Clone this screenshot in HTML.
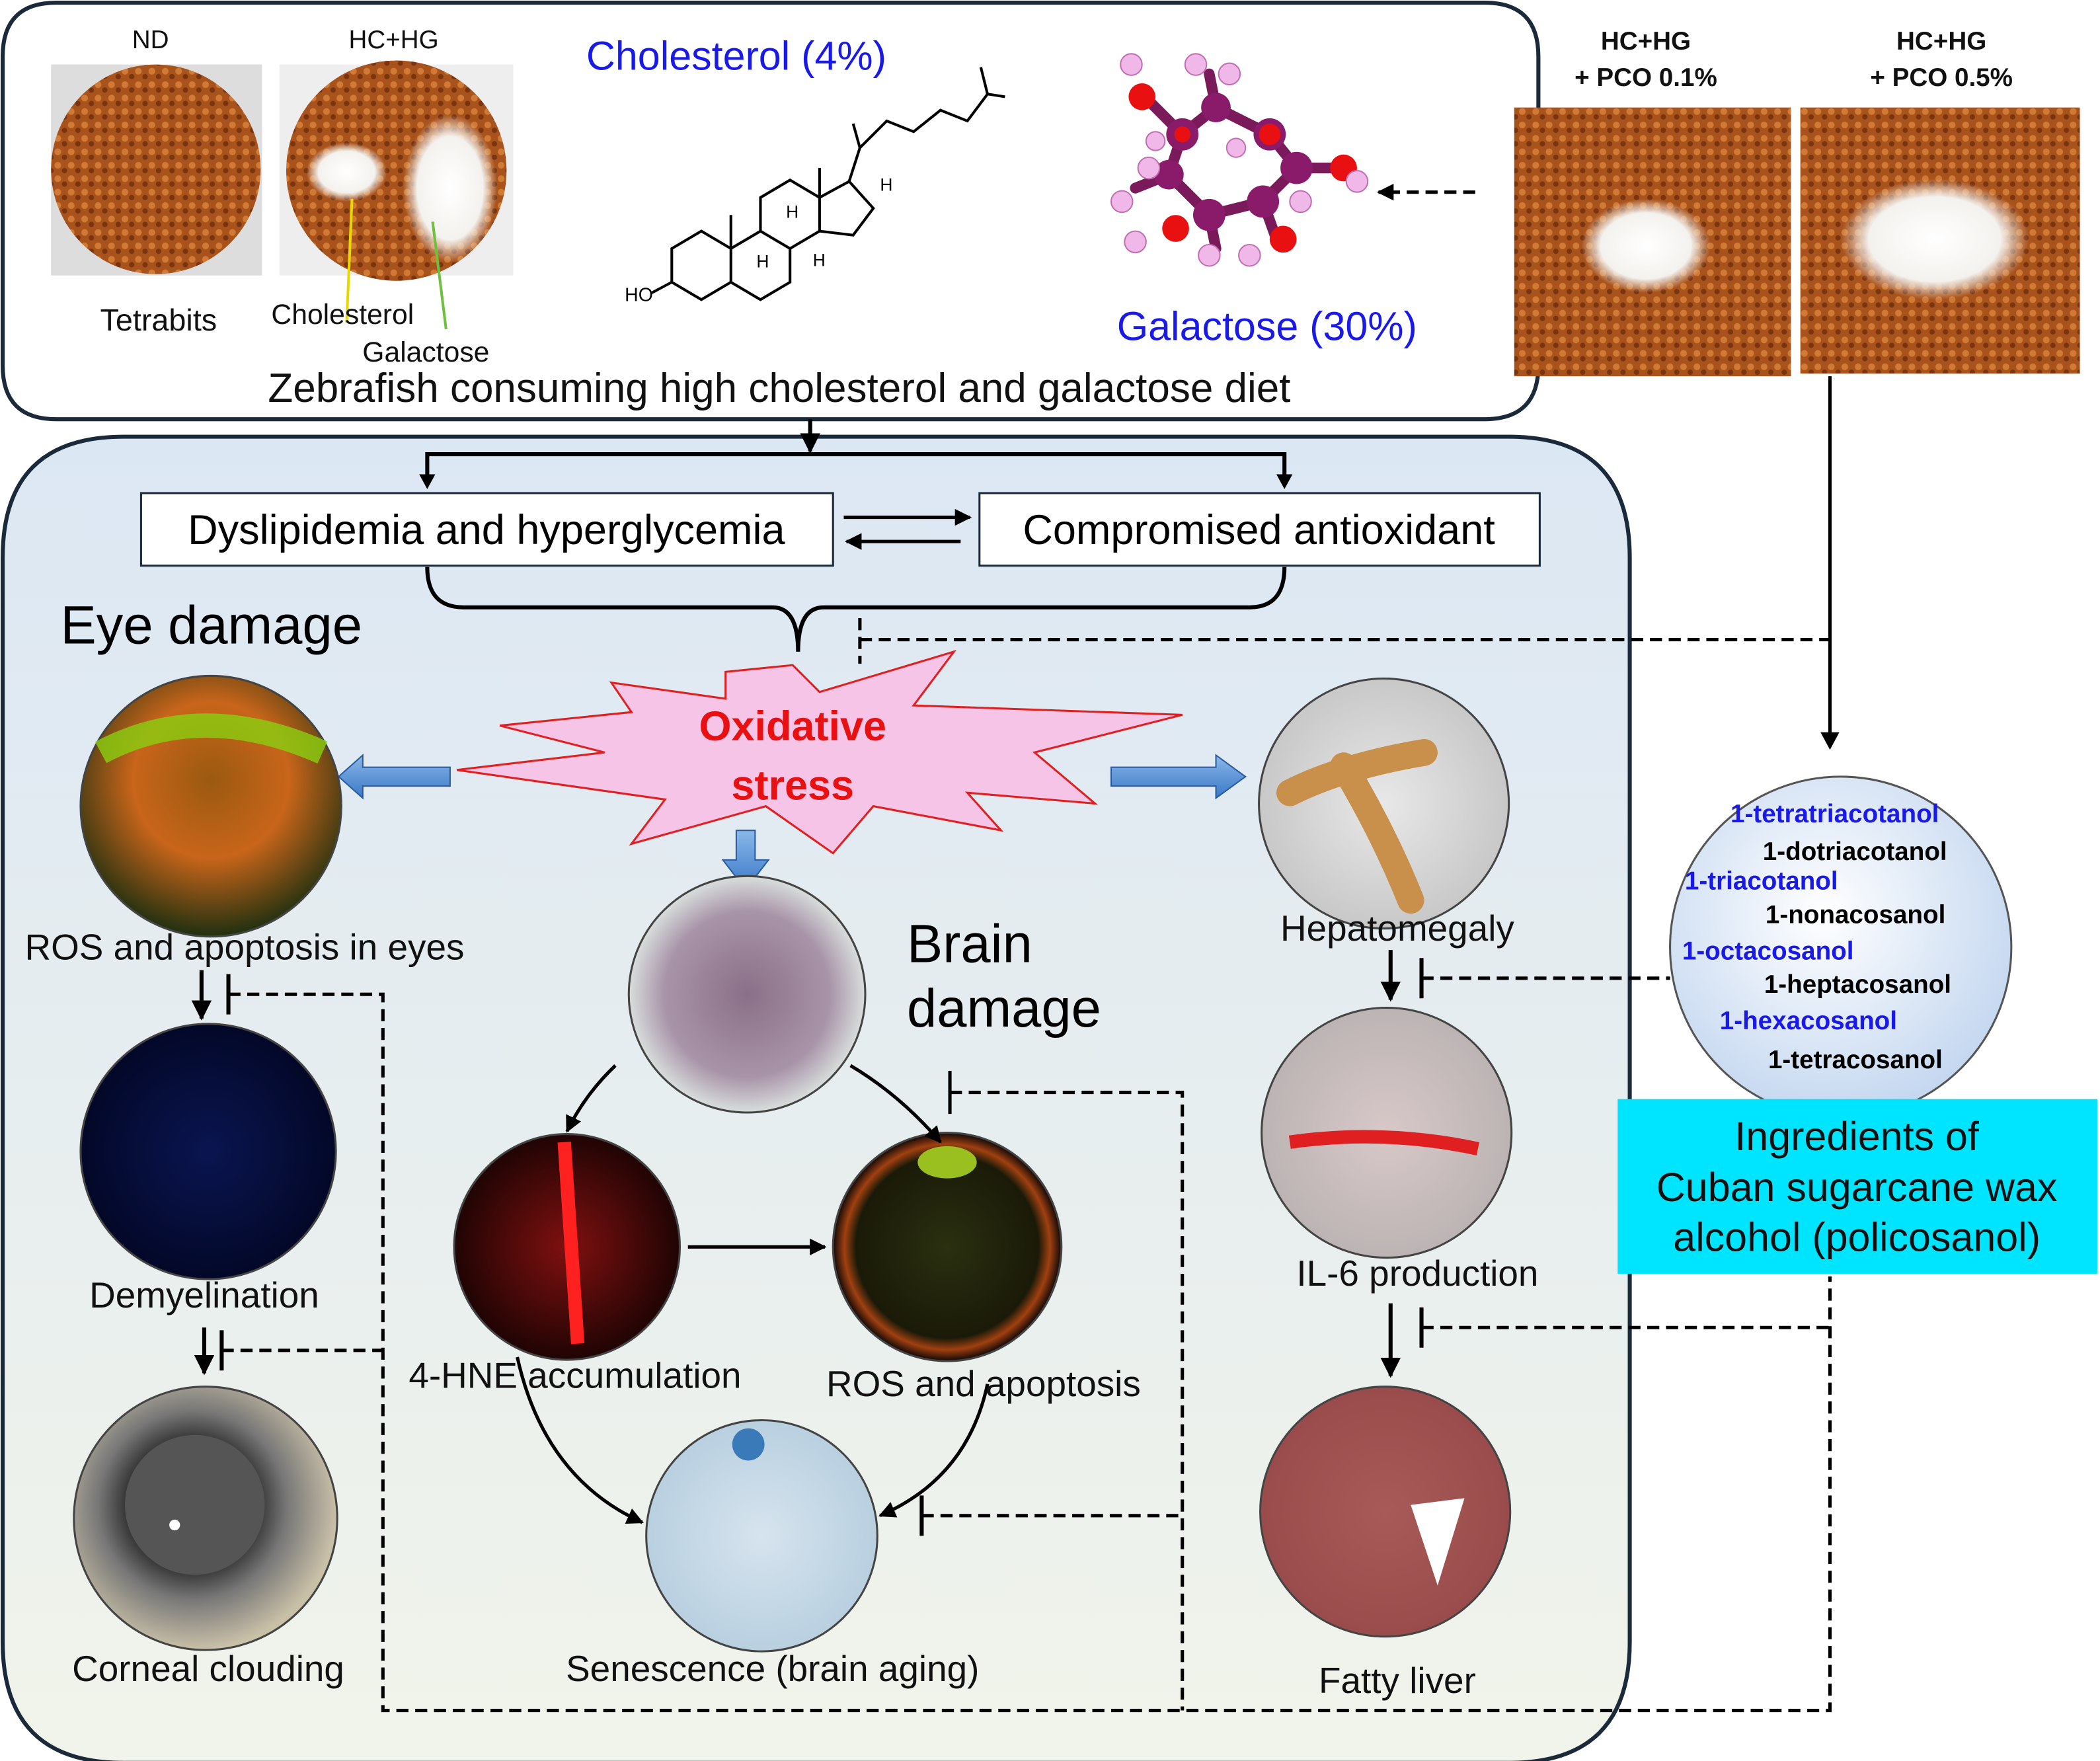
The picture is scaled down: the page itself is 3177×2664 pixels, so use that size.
<!DOCTYPE html>
<html><head><meta charset="utf-8"><style>html,body{margin:0;padding:0;background:#fff}svg{display:block}</style></head><body>
<svg xmlns="http://www.w3.org/2000/svg" width="3177" height="2664" viewBox="0 0 1563 1310.6" font-family="Liberation Sans, Arial, sans-serif">
<defs>
<linearGradient id="bg" x1="0" y1="0" x2="0" y2="1"><stop offset="0" stop-color="#dce7f4"/><stop offset="1" stop-color="#f1f4ea"/></linearGradient>
<radialGradient id="pco" cx="0.45" cy="0.4" r="0.6"><stop offset="0" stop-color="#ffffff"/><stop offset="1" stop-color="#c5d8f0"/></radialGradient>
<pattern id="kib" width="10" height="10" patternUnits="userSpaceOnUse"><rect width="10" height="10" fill="#a9531c"/><circle cx="3" cy="3" r="2.5" fill="#d07a35"/><circle cx="8" cy="7" r="2" fill="#7a3510"/></pattern>
<radialGradient id="white" cx="0.5" cy="0.5" r="0.5"><stop offset="0" stop-color="#fff"/><stop offset="0.7" stop-color="#f4f2ee"/><stop offset="1" stop-color="#f4f2ee" stop-opacity="0"/></radialGradient>
<radialGradient id="eye1" cx="0.5" cy="0.4" r="0.6"><stop offset="0" stop-color="#9a5a10"/><stop offset="0.5" stop-color="#c8651a"/><stop offset="1" stop-color="#203010"/></radialGradient>
<radialGradient id="demy" cx="0.5" cy="0.5" r="0.5"><stop offset="0" stop-color="#0a1550"/><stop offset="1" stop-color="#030828"/></radialGradient>
<radialGradient id="corn" cx="0.45" cy="0.45" r="0.55"><stop offset="0" stop-color="#999"/><stop offset="0.45" stop-color="#333"/><stop offset="0.65" stop-color="#777"/><stop offset="1" stop-color="#c9c0a8"/></radialGradient>
<radialGradient id="brain" cx="0.5" cy="0.5" r="0.5"><stop offset="0" stop-color="#8a7088"/><stop offset="0.7" stop-color="#a894a8"/><stop offset="1" stop-color="#d8dedc"/></radialGradient>
<radialGradient id="hne" cx="0.5" cy="0.5" r="0.5"><stop offset="0" stop-color="#801010"/><stop offset="1" stop-color="#200404"/></radialGradient>
<radialGradient id="ros" cx="0.5" cy="0.5" r="0.5"><stop offset="0" stop-color="#2a3010"/><stop offset="0.8" stop-color="#1a1a08"/><stop offset="0.9" stop-color="#a04010"/><stop offset="1" stop-color="#100808"/></radialGradient>
<radialGradient id="sen" cx="0.5" cy="0.5" r="0.5"><stop offset="0" stop-color="#d6e4ee"/><stop offset="1" stop-color="#b9d0e0"/></radialGradient>
<radialGradient id="liv" cx="0.5" cy="0.5" r="0.5"><stop offset="0" stop-color="#e8e8e8"/><stop offset="1" stop-color="#c8c8c8"/></radialGradient>
<radialGradient id="il6" cx="0.5" cy="0.5" r="0.5"><stop offset="0" stop-color="#d8c8c8"/><stop offset="1" stop-color="#bcb4b4"/></radialGradient>
<radialGradient id="fat" cx="0.5" cy="0.5" r="0.5"><stop offset="0" stop-color="#a85a58"/><stop offset="1" stop-color="#9a4c4c"/></radialGradient>
<linearGradient id="barrow" x1="0" y1="0" x2="0" y2="1"><stop offset="0" stop-color="#8ab8e8"/><stop offset="1" stop-color="#3a78c8"/></linearGradient>
<marker id="ah" viewBox="0 0 10 10" refX="9" refY="5" markerWidth="5" markerHeight="5" orient="auto"><path d="M0,0 L10,5 L0,10 z" fill="#000"/></marker>
</defs>
<rect width="1563" height="1311" fill="#fff"/>
<path d="M42,2 H1105 Q1145,2 1145,42 V272 Q1145,312 1105,312 H42 Q2,312 2,272 V42 Q2,2 42,2 Z" fill="#fff" stroke="#1b2a3a" stroke-width="3"/>
<rect x="38" y="48" width="157" height="157" fill="#ddd"/>
<circle cx="116" cy="126" r="78" fill="url(#kib)"/>
<rect x="208" y="48" width="174" height="157" fill="#eee"/>
<circle cx="295" cy="127" r="82" fill="url(#kib)"/>
<ellipse cx="258" cy="128" rx="30" ry="22" fill="url(#white)"/>
<ellipse cx="335" cy="140" rx="35" ry="55" fill="url(#white)"/>
<line x1="262" y1="148" x2="258" y2="240" stroke="#e8d800" stroke-width="2"/>
<line x1="322" y1="165" x2="332" y2="245" stroke="#70c040" stroke-width="2"/>
<g font-size="19" text-anchor="middle" fill="#111">
<text x="112" y="36">ND</text><text x="293" y="36">HC+HG</text>
<text x="118" y="246" font-size="23">Tetrabits</text>
<text x="255" y="241" font-size="21">Cholesterol</text>
<text x="317" y="269" font-size="21">Galactose</text>
</g>
<text x="548" y="52" font-size="30" fill="#1a1ae8" text-anchor="middle">Cholesterol (4%)</text>
<g stroke="#000" stroke-width="2" fill="none">
<path d="M500,185 L522,172 L544,185 L544,210 L522,223 L500,210 Z"/>
<path d="M544,185 L566,172 L588,185 L588,210 L566,223 L544,210"/>
<path d="M566,172 L566,147 L588,134 L610,147 L610,172 L588,185"/>
<path d="M610,147 L632,135 L650,155 L635,175 L610,172"/>
<path d="M632,135 L640,110 L660,90 L680,98 L700,82 L720,90 L735,70 L748,72"/>
<path d="M735,70 L730,50"/><path d="M640,110 L635,92"/>
<path d="M544,185 L544,160"/><path d="M610,147 L610,125"/>
<path d="M500,210 L485,218"/>
</g>
<text x="465" y="224" font-size="14">HO</text>
<g font-size="13"><text x="585" y="162">H</text><text x="563" y="199">H</text><text x="605" y="198">H</text><text x="655" y="142">H</text></g>
<g stroke="#7a1a5a" stroke-width="8" stroke-linecap="round" fill="none">
<path d="M850,70 L880,100 L905,80 L945,100 L965,125 L940,150 L900,160 L870,130 L880,100"/>
<path d="M900,160 L905,185"/><path d="M940,150 L950,178"/><path d="M965,125 L1000,125"/><path d="M905,80 L900,55"/><path d="M870,130 L845,140"/>
</g>
<g fill="#8a1a6a"><circle cx="880" cy="100" r="12"/><circle cx="945" cy="100" r="12"/><circle cx="940" cy="150" r="12"/><circle cx="900" cy="160" r="12"/><circle cx="965" cy="125" r="12"/><circle cx="870" cy="130" r="11"/><circle cx="905" cy="80" r="11"/></g>
<g fill="#e81010"><circle cx="850" cy="72" r="10"/><circle cx="945" cy="100" r="8"/><circle cx="1000" cy="125" r="10"/><circle cx="875" cy="170" r="10"/><circle cx="955" cy="178" r="10"/><circle cx="880" cy="100" r="6"/></g>
<g fill="#f0b8e8" stroke="#c070b0"><circle cx="842" cy="48" r="8"/><circle cx="890" cy="48" r="8"/><circle cx="915" cy="55" r="8"/><circle cx="835" cy="150" r="8"/><circle cx="855" cy="125" r="8"/><circle cx="845" cy="180" r="8"/><circle cx="900" cy="190" r="8"/><circle cx="930" cy="190" r="8"/><circle cx="968" cy="150" r="8"/><circle cx="1010" cy="135" r="8"/><circle cx="920" cy="110" r="7"/><circle cx="860" cy="105" r="7"/></g>
<line x1="1098" y1="143" x2="1026" y2="143" stroke="#000" stroke-width="2.5" stroke-dasharray="9,5" marker-end="url(#ah)"/>
<text x="943" y="253" font-size="30" fill="#1a1ae8" text-anchor="middle">Galactose (30%)</text>
<text x="580" y="299" font-size="30.5" text-anchor="middle" fill="#111">Zebrafish consuming high cholesterol and galactose diet</text>
<rect x="1127" y="80" width="206" height="200" fill="url(#kib)"/>
<ellipse cx="1225" cy="183" rx="48" ry="35" fill="url(#white)"/>
<rect x="1340" y="80" width="208" height="198" fill="url(#kib)"/>
<ellipse cx="1440" cy="178" rx="70" ry="45" fill="url(#white)"/>
<g font-size="19" font-weight="bold" text-anchor="middle" fill="#111">
<text x="1225" y="37">HC+HG</text><text x="1225" y="64">+ PCO 0.1%</text>
<text x="1445" y="37">HC+HG</text><text x="1445" y="64">+ PCO 0.5%</text></g>
<path d="M92,325 H1123 Q1213,325 1213,415 V1222 Q1213,1312 1123,1312 H92 Q2,1312 2,1222 V415 Q2,325 92,325 Z" fill="url(#bg)" stroke="#1b2a3a" stroke-width="3"/>
<g stroke="#000" stroke-width="3" fill="none">
<line x1="603" y1="312" x2="603" y2="336" marker-end="url(#ah)"/>
<polyline points="318,360 318,338 956,338 956,360"/>
</g>
<path d="M312,353 L318,364 L324,353Z M950,353 L956,364 L962,353Z" fill="#000"/>
<rect x="105" y="367" width="515" height="54" fill="#fff" stroke="#1b2a3a" stroke-width="1.5"/>
<rect x="729" y="367" width="417" height="54" fill="#fff" stroke="#1b2a3a" stroke-width="1.5"/>
<text x="362" y="405" font-size="31" text-anchor="middle">Dyslipidemia and hyperglycemia</text>
<text x="937" y="405" font-size="31" text-anchor="middle">Compromised antioxidant</text>
<line x1="628" y1="385" x2="722" y2="385" stroke="#000" stroke-width="2.5" marker-end="url(#ah)"/>
<line x1="715" y1="403" x2="630" y2="403" stroke="#000" stroke-width="2.5" marker-end="url(#ah)"/>
<path d="M318,422 Q318,452 345,452 H575 Q594,452 594,485 Q594,452 613,452 H930 Q956,452 956,422" fill="none" stroke="#000" stroke-width="3"/>
<g stroke="#000" stroke-width="2.5" fill="none" stroke-dasharray="9,5">
<line x1="640" y1="460" x2="640" y2="494"/>
<polyline points="640,476 1362,476"/>
<polyline points="707,813 880,813 880,1273"/><line x1="707" y1="797" x2="707" y2="829" stroke-dasharray="none"/>
<line x1="686" y1="1128" x2="880" y2="1128"/>
<polyline points="170,740 285,740 285,1273 1362,1273 1362,950"/>
<line x1="165" y1="1005" x2="285" y2="1005"/>
<line x1="1058" y1="988" x2="1362" y2="988"/>
<line x1="1058" y1="728" x2="1243" y2="728"/>
</g>
<g stroke="#000" stroke-width="3">
<line x1="170" y1="725" x2="170" y2="755"/><line x1="165" y1="990" x2="165" y2="1020"/>
<line x1="686" y1="1113" x2="686" y2="1143"/><line x1="1058" y1="973" x2="1058" y2="1003"/><line x1="1058" y1="713" x2="1058" y2="743"/>
<line x1="1362" y1="280" x2="1362" y2="548" stroke-width="2.5"/>
</g>
<path d="M1355,545 L1362,558 L1369,545Z" fill="#000"/>
<text x="45" y="479" font-size="40">Eye damage</text>
<polygon points="590,495 610,515 710,485 680,525 880,532 770,560 815,598 720,590 745,618 650,600 620,635 570,600 470,628 495,595 340,573 450,560 372,540 470,530 455,508 540,520 540,500" fill="#f5c4e6" stroke="#e02020" stroke-width="1.5"/>
<text x="590" y="551" font-size="31" font-weight="bold" fill="#e81010" text-anchor="middle">Oxidative</text>
<text x="590" y="595" font-size="31" font-weight="bold" fill="#e81010" text-anchor="middle">stress</text>
<polygon points="335,571 270,571 270,562 252,578 270,594 270,585 335,585" fill="url(#barrow)" stroke="#2a5aa0"/>
<polygon points="827,571 905,571 905,562 927,578 905,594 905,585 827,585" fill="url(#barrow)" stroke="#2a5aa0"/>
<polygon points="548,618 562,618 562,640 572,640 555,662 538,640 548,640" fill="url(#barrow)" stroke="#2a5aa0"/>
<g stroke="#444" stroke-width="1.5">
<circle cx="157" cy="600" r="97" fill="url(#eye1)"/>
<circle cx="155" cy="857" r="95" fill="url(#demy)"/>
<circle cx="153" cy="1130" r="98" fill="url(#corn)"/>
<circle cx="556" cy="740" r="88" fill="url(#brain)"/>
<circle cx="422" cy="928" r="84" fill="url(#hne)"/>
<circle cx="705" cy="928" r="85" fill="url(#ros)"/>
<circle cx="567" cy="1143" r="86" fill="url(#sen)"/>
<circle cx="1030" cy="598" r="93" fill="url(#liv)"/>
<circle cx="1032" cy="843" r="93" fill="url(#il6)"/>
<circle cx="1031" cy="1125" r="93" fill="url(#fat)"/>
</g>
<path d="M75,560 Q150,520 240,560" stroke="#8ad010" stroke-width="18" fill="none" opacity="0.8"/>
<circle cx="145" cy="1120" r="52" fill="#555"/><circle cx="130" cy="1135" r="4" fill="#fff"/>
<path d="M420,850 L430,1000" stroke="#ff2020" stroke-width="10"/>
<ellipse cx="705" cy="865" rx="22" ry="12" fill="#9ac020"/>
<circle cx="557" cy="1075" r="12" fill="#3a7ab8"/>
<path d="M960,590 Q1000,570 1060,560 M1000,570 Q1030,620 1050,670" stroke="#c8904a" stroke-width="20" fill="none" stroke-linecap="round"/>
<path d="M960,850 Q1030,840 1100,855" stroke="#e02020" stroke-width="10" fill="none"/>
<path d="M1050,1120 L1090,1115 L1070,1180 Z" fill="#fff"/>
<g stroke="#000" stroke-width="2.5" fill="none">
<path d="M458,793 Q435,815 422,842" marker-end="url(#ah)"/>
<path d="M633,793 Q670,815 700,850" marker-end="url(#ah)"/>
<line x1="512" y1="928" x2="614" y2="928" marker-end="url(#ah)"/>
<path d="M385,1010 Q405,1100 478,1133" marker-end="url(#ah)"/>
<path d="M735,1030 Q720,1100 655,1128" marker-end="url(#ah)"/>
<line x1="150" y1="722" x2="150" y2="758" marker-end="url(#ah)" stroke-width="3"/>
<line x1="152" y1="988" x2="152" y2="1022" marker-end="url(#ah)" stroke-width="3"/>
<line x1="1035" y1="707" x2="1035" y2="744" marker-end="url(#ah)" stroke-width="3"/>
<line x1="1035" y1="970" x2="1035" y2="1024" marker-end="url(#ah)" stroke-width="3"/>
</g>
<g font-size="27" text-anchor="middle" fill="#111">
<text x="182" y="714">ROS and apoptosis in eyes</text>
<text x="152" y="973">Demyelination</text>
<text x="155" y="1251">Corneal clouding</text>
<text x="428" y="1033">4-HNE accumulation</text>
<text x="732" y="1039">ROS and apoptosis</text>
<text x="575" y="1251">Senescence (brain aging)</text>
<text x="1040" y="700">Hepatomegaly</text>
<text x="1055" y="957">IL-6 production</text>
<text x="1040" y="1260">Fatty liver</text>
</g>
<text x="675" y="716" font-size="40">Brain</text>
<text x="675" y="764" font-size="40">damage</text>
<circle cx="1370" cy="705" r="127" fill="url(#pco)" stroke="#555" stroke-width="1.5"/>
<g font-size="19" font-weight="bold">
<text x="1288" y="612" fill="#1a1ae8">1-tetratriacotanol</text>
<text x="1312" y="640">1-dotriacotanol</text>
<text x="1254" y="662" fill="#1a1ae8">1-triacotanol</text>
<text x="1314" y="687">1-nonacosanol</text>
<text x="1252" y="714" fill="#1a1ae8">1-octacosanol</text>
<text x="1313" y="739">1-heptacosanol</text>
<text x="1280" y="766" fill="#1a1ae8">1-hexacosanol</text>
<text x="1316" y="795">1-tetracosanol</text>
</g>
<rect x="1204" y="818" width="357" height="130" fill="#00e5ff"/>
<g font-size="30" text-anchor="middle" fill="#111">
<text x="1382" y="856">Ingredients of</text>
<text x="1382" y="894">Cuban sugarcane wax</text>
<text x="1382" y="931">alcohol (policosanol)</text>
</g>
</svg>
</body></html>
